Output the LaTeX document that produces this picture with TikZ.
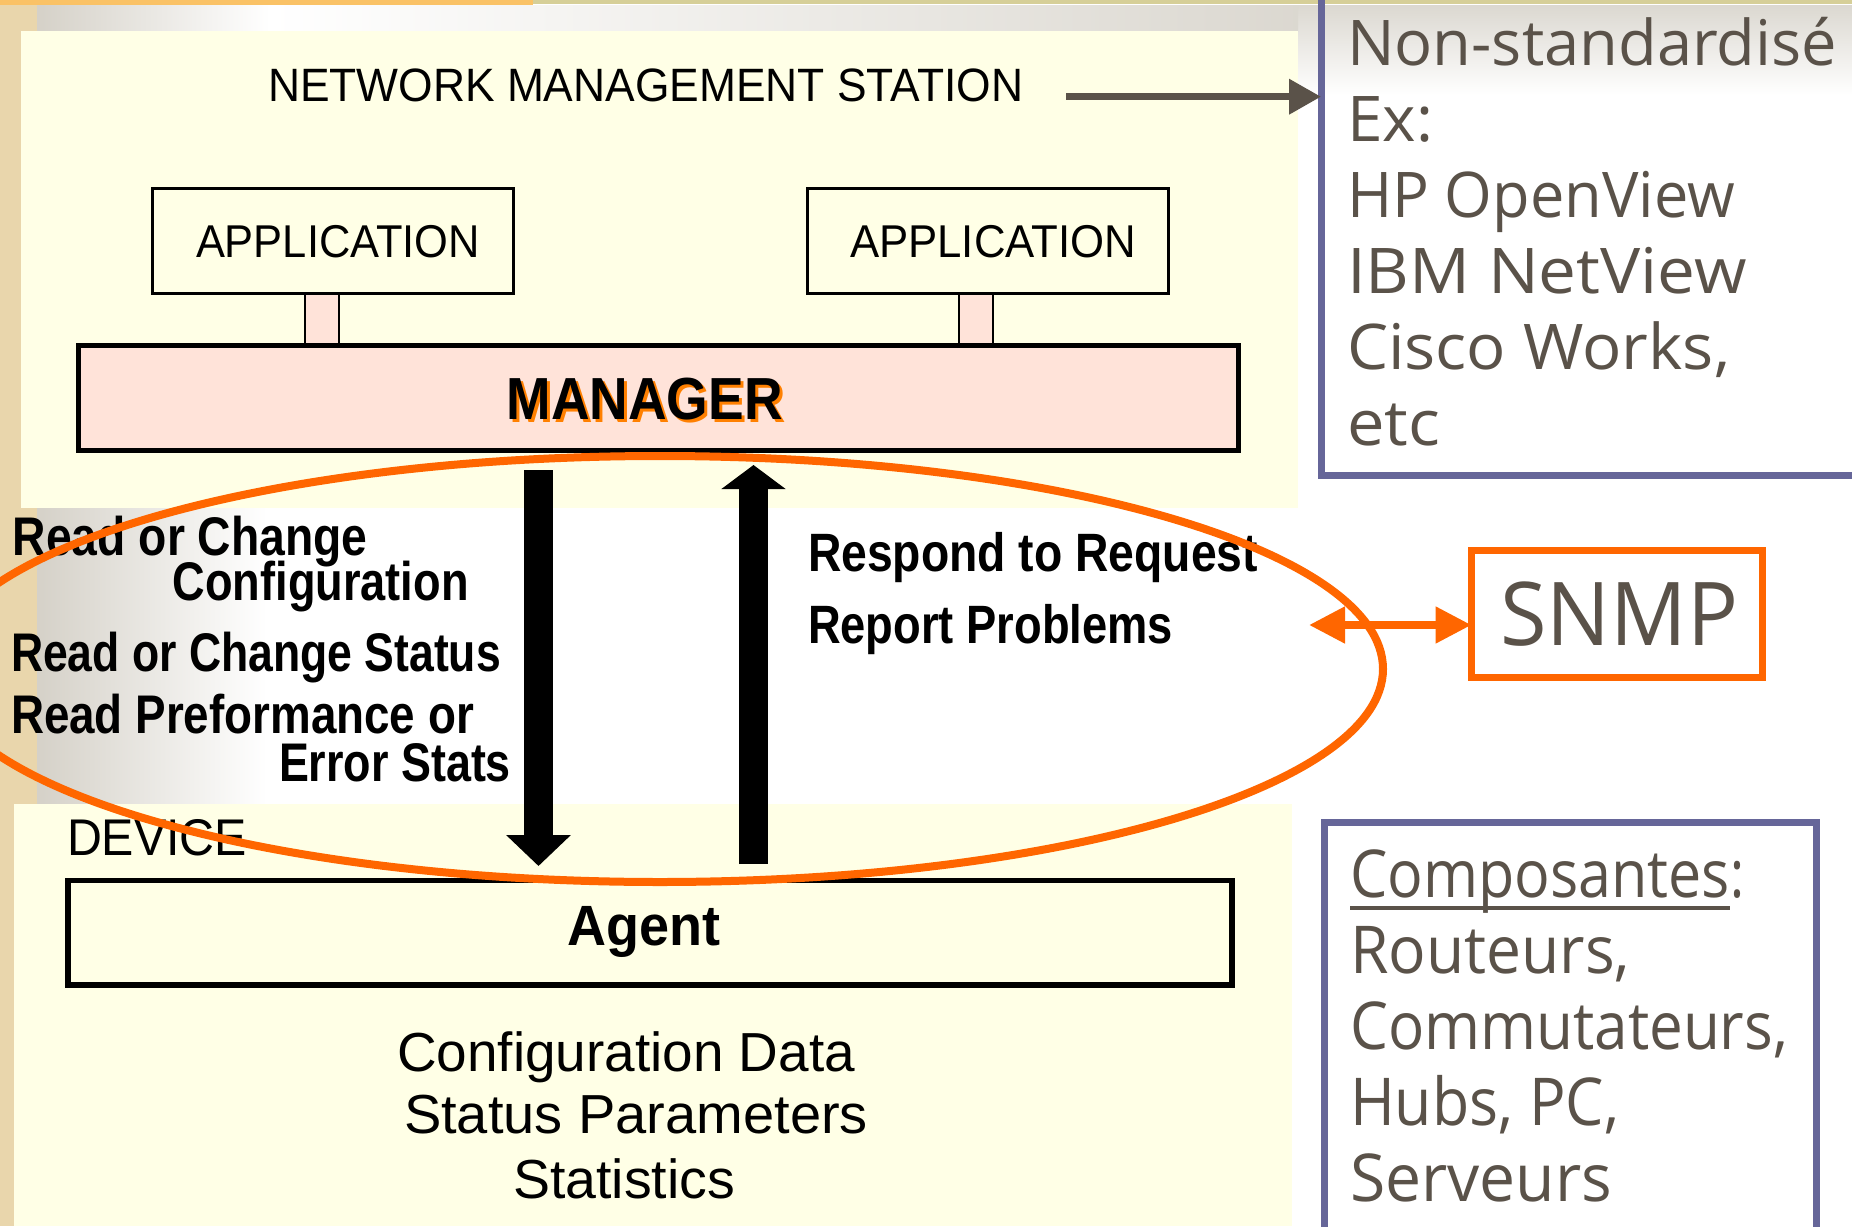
\documentclass[tikz,border=0pt]{standalone}
\usepackage{fontspec}
\usepackage{graphicx}
\setmainfont{Liberation Sans}
\newfontfamily\comicfont{Open Sans}
\usetikzlibrary{arrows.meta}
\definecolor{panel}{HTML}{FFFFE6}
\definecolor{mgrfill}{HTML}{FFE3D9}
\definecolor{snmporange}{HTML}{FF6600}
\definecolor{shadoworange}{HTML}{FF8000}
\definecolor{greytext}{HTML}{5A5249}
\definecolor{frameblue}{HTML}{666699}
\definecolor{tanstrip}{HTML}{E9D6AC}
\definecolor{topbar}{HTML}{FAC266}
\definecolor{topstrip}{HTML}{D6CF98}
\definecolor{gradgrey}{HTML}{D5D1C8}
\newlength\fitlen
\newcommand\fitw[2]{\settowidth{\fitlen}{#2}\pgfmathsetmacro\fitratio{#1*0.5/\fitlen}\scalebox{\fitratio}[1]{#2}}
\tikzset{
  lbl/.style={inner sep=0pt, outer sep=0pt},
  fs/.style={font=\fontsize{#1}{#1}\selectfont},
  bfs/.style={font=\fontsize{#1}{#1}\selectfont\bfseries},
  cfs/.style={font=\comicfont\fontsize{#1}{#1}\selectfont, text=greytext},
  boxst/.style={draw=black, inner sep=0pt, outer sep=0pt},
  framest/.style={draw=frameblue, line width=3.5pt, inner sep=0pt, outer sep=0pt},
  stubst/.style={draw=black, fill=mgrfill, line width=0.75pt},
  blockarrow/.style={draw=black, line width=14.5pt},
}
\begin{document}
\begin{tikzpicture}[x=0.5pt, y=-0.5pt]
\useasboundingbox (0,0) rectangle (1852,1226);
\clip (0,0) rectangle (1852,1226);
% background
\fill[white] (0,0) rectangle (1852,1226);
\fill[tanstrip] (0,0) rectangle (37,1226);
\shade[top color=gradgrey!85, bottom color=white] (1298,5) rectangle (1852,95);
\shade[left color=gradgrey, right color=white] (37,5) rectangle (270,31);
\shade[left color=white, right color=gradgrey!85] (270,5) rectangle (1298,31);
\fill[topbar] (0,0) rectangle (533,5);
\fill[topstrip] (533,0) rectangle (1852,4);
\fill[panel] (21,31) rectangle (1298,508);
\shade[left color=gradgrey, right color=white] (37,508) rectangle (267,804);
\fill[panel] (14,804) rectangle (1292,1226);

% right frames
\node[framest, minimum width=300pt, minimum height=300pt, anchor=south west] (exbox) at (1321,475) {};
\node[framest, minimum width=246pt, minimum height=300pt, anchor=north west] (compbox) at (1324,822) {};

% network management station
\node[lbl, fs=23.4pt, anchor=base west] (nms) at (268,101.7) {\fitw{755}{NETWORK MANAGEMENT STATION}};
\coordinate (nmsA) at (1066,96.7);
\draw[greytext, line width=3.5pt, -{Triangle[width=17pt,length=16pt]}] (nmsA) -- (nmsA -| exbox.west);

% stubs, applications, manager
\draw[stubst] (305,294) rectangle (339,345.5);
\draw[stubst] (959,294) rectangle (993,345.5);
\node[boxst, fill=panel, line width=1.5pt, minimum width=180.5pt, minimum height=52.5pt] (app1) at (333,241) {};
\node[boxst, fill=panel, line width=1.5pt, minimum width=180.5pt, minimum height=52.5pt] (app2) at (987.5,241) {};
\node[lbl, fs=23pt, anchor=base] (app1t) at (338,257) {\fitw{284}{APPLICATION}};
\node[lbl, fs=23pt, anchor=base] (app2t) at (993,257) {\fitw{286}{APPLICATION}};
\node[boxst, fill=mgrfill, line width=2.5pt, minimum width=579.75pt, minimum height=52.5pt] (mgr) at (658.25,398) {};
\node[lbl, bfs=29.7pt, anchor=base west, text=shadoworange] (mgrsh) at (509.7,422.3) {\fitw{276}{MANAGER}};
\node[lbl, bfs=29.7pt, anchor=base west] (mgrt) at (506.7,419.3) {\fitw{276}{MANAGER}};

% left labels
\node[lbl, bfs=27.2pt, anchor=base west] (l1) at (12.7,555) {\fitw{355}{Read or Change}};
\node[lbl, bfs=27.2pt, anchor=base west] (l2) at (172.7,600) {\fitw{296}{Configuration}};
\node[lbl, bfs=27.2pt, anchor=base west] (l3) at (11,671) {\fitw{490}{Read or Change Status}};
\node[lbl, bfs=27.2pt, anchor=base west] (l4) at (11,733) {\fitw{463}{Read Preformance or}};
\node[lbl, bfs=27.2pt, anchor=base west] (l5) at (279,781) {\fitw{232}{Error Stats}};
% right labels
\node[lbl, bfs=27pt, anchor=base west] (r1) at (808,571.7) {\fitw{450}{Respond to Request}};
\node[lbl, bfs=27pt, anchor=base west] (r2) at (808,643) {\fitw{365}{Report Problems}};

% device
\node[lbl, fs=25.8pt, anchor=base west] (dev) at (67,855) {\fitw{180}{DEVICE}};
\node[boxst, fill=panel, line width=2.75pt, minimum width=582pt, minimum height=52.25pt] (agent) at (650,932.75) {};
\node[lbl, bfs=28.4pt, anchor=base] (agentt) at (644,945.7) {\fitw{153}{Agent}};
\node[lbl, fs=27.5pt, anchor=base] (d1) at (626,1071.7) {\fitw{458}{Configuration Data}};
\node[lbl, fs=27.5pt, anchor=base] (d2) at (636,1133) {\fitw{464}{Status Parameters}};
\node[lbl, fs=27.5pt, anchor=base] (d3) at (624,1198) {\fitw{222}{Statistics}};

% block arrows
\coordinate (dnA) at (538.5,470);
\coordinate (dnB) at (538.5,866);
\coordinate (upA) at (753.5,864);
\coordinate (upB) at (753.5,465);
\draw[blockarrow, -{Triangle[width=31.5pt,length=15.5pt]}] (dnA) -- (dnB);
\draw[blockarrow, -{Triangle[width=31.5pt,length=12pt]}] (upA) -- (upB);

% SNMP ellipse
\draw[snmporange, line width=4pt] (660,669) ellipse [x radius=361.5pt, y radius=106.5pt];

% SNMP box
\node[draw=snmporange, line width=3.5pt, minimum width=145.25pt, minimum height=63.5pt, inner sep=0pt, outer sep=0pt] (snmp) at (1616.75,613.5) {};
\node[lbl, cfs=44pt, anchor=base] (snmpt) at (1619,645.5) {\fitw{238}{SNMP}};
\coordinate (dblA) at (1309,625);
\draw[snmporange, line width=4pt, {Triangle[width=17.5pt,length=18pt]}-{Triangle[width=17.5pt,length=18pt]}] (dblA) -- (dblA -| snmp.west);

% right text top
\node[lbl, cfs=31.5pt, anchor=base west] (t1) at (1347,65) {\fitw{490}{Non-standardisé}};
\node[lbl, cfs=31.5pt, anchor=base west] (t2) at (1347,141) {\fitw{86}{Ex:}};
\node[lbl, cfs=31.5pt, anchor=base west] (t3) at (1347,217) {\fitw{388}{HP OpenView}};
\node[lbl, cfs=31.5pt, anchor=base west] (t4) at (1347,293) {\fitw{400}{IBM NetView}};
\node[lbl, cfs=31.5pt, anchor=base west] (t5) at (1347,369) {\fitw{383}{Cisco Works,}};
\node[lbl, cfs=31.5pt, anchor=base west] (t6) at (1347,445) {\fitw{93}{etc}};

% right text bottom
\node[lbl, cfs=33pt, anchor=base west] (c1) at (1350,897) {\fitw{380}{Composantes}};
\node[lbl, cfs=33pt, anchor=base west] (c1b) at (c1.base east) {\fitw{14}{:}};
\draw[greytext, line width=2pt] ([yshift=-5.5pt]c1.base west) -- ([yshift=-5.5pt]c1.base east);
\node[lbl, cfs=33pt, anchor=base west] (c2) at (1350,973) {\fitw{280}{Routeurs,}};
\node[lbl, cfs=33pt, anchor=base west] (c3) at (1350,1049) {\fitw{438}{Commutateurs,}};
\node[lbl, cfs=33pt, anchor=base west] (c4) at (1350,1125) {\fitw{269}{Hubs, PC,}};
\node[lbl, cfs=33pt, anchor=base west] (c5) at (1350,1201) {\fitw{262}{Serveurs}};
\end{tikzpicture}
\end{document}
